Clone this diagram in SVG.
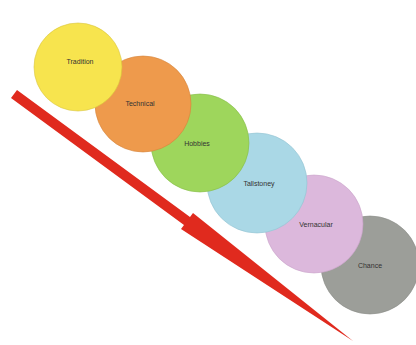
<svg xmlns="http://www.w3.org/2000/svg" width="416" height="345" viewBox="0 0 416 345">
<style>
.c{stroke-width:1;stroke-opacity:0.6}
.t{font-family:"Liberation Sans",Arial,sans-serif;font-size:7px;fill:#333;text-anchor:middle}
</style>
<rect width="416" height="345" fill="#ffffff"/>
<g id="connectors">
<polygon points="11,98 17,90 190,217 193,213 353,341 181,229 184,225" fill="#e02a1e"/>
</g>
<g id="n6"><circle class="c" cx="370" cy="265" r="49" fill="#9c9e99" stroke="#8a8c87"/><text class="t" x="370" y="268">Chance</text></g>
<g id="n5"><circle class="c" cx="314" cy="224" r="49" fill="#dcb8dc" stroke="#c9a3c9"/><text class="t" x="316" y="227">Vernacular</text></g>
<g id="n4"><circle class="c" cx="257" cy="183" r="50" fill="#aad8e6" stroke="#93c3d2"/><text class="t" x="259" y="186">Tallstoney</text></g>
<g id="n3"><circle class="c" cx="200" cy="143" r="49" fill="#9ed65c" stroke="#86bd48"/><text class="t" x="197" y="146">Hobbies</text></g>
<g id="n2"><circle class="c" cx="143" cy="104" r="48" fill="#ee9a4c" stroke="#d6843a"/><text class="t" x="140" y="106">Technical</text></g>
<g id="n1"><circle class="c" cx="78" cy="67" r="44" fill="#f7e44e" stroke="#d8c53c"/><text class="t" x="80" y="64">Tradition</text></g>
</svg>
